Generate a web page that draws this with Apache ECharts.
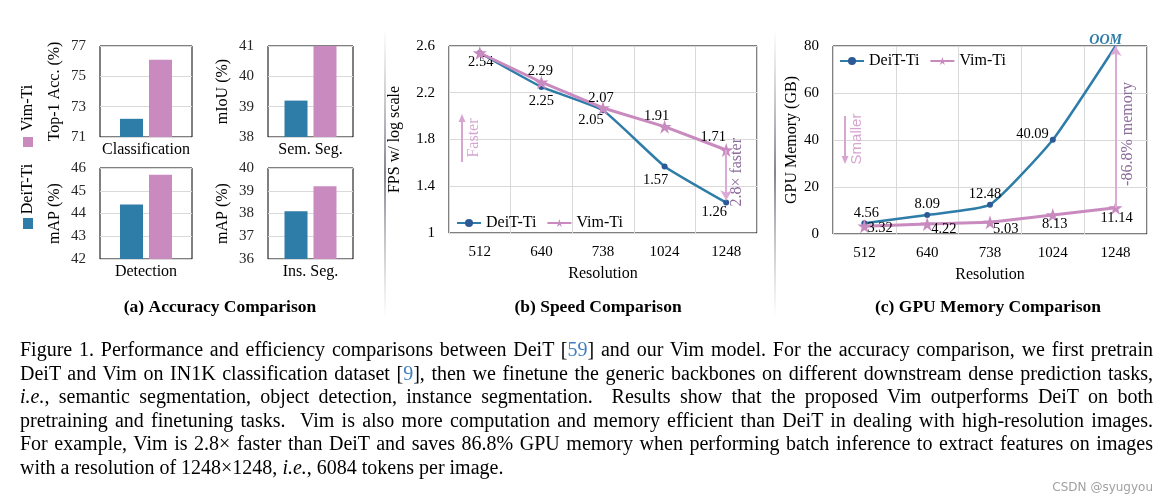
<!DOCTYPE html>
<html><head><meta charset="utf-8">
<script src="https://cdn.jsdelivr.net/npm/echarts@6/dist/echarts.min.js"></script>
<style>
html,body{margin:0;padding:0;background:#fff;}
#chart{position:absolute;left:0;top:0;width:1170px;height:504px;}
#caption{position:absolute;left:20px;top:338px;width:1133px;font-family:'Liberation Serif','Times New Roman',serif;font-size:20px;line-height:23.6px;color:#000;}
#caption .ln{white-space:nowrap;}
#caption .ref{color:#3f7fc4;}
</style></head><body>
<div id="chart"></div>
<div id="caption"></div>
<script>
// ---------- data ----------
const accTasks = ['Classification', 'Sem. Seg.', 'Detection', 'Ins. Seg.'];
const accYNames = ['Top-1 Acc. (%)', 'mIoU (%)', 'mAP (%)', 'mAP (%)'];
const accDeiT = [72.2, 39.2, 44.4, 38.1];
const accVim = [76.1, 41.0, 45.7, 39.2];
const accMin = [71, 38, 42, 36];
const accMax = [77, 41, 46, 40];
const accStep = [2, 1, 1, 1];

const resolutions = ['512', '640', '738', '1024', '1248'];
const fpsDeiT = [2.54, 2.25, 2.05, 1.57, 1.26];
const fpsVim = [2.54, 2.29, 2.07, 1.91, 1.71];
const fpsAxis = [1, 2.6, 0.4];          // min, max, step

const memDeiT = [4.56, 8.09, 12.48, 40.09, 80]; // 1248: OOM, drawn up to the axis top
const memVim = [3.32, 4.22, 5.03, 8.13, 11.14];
const memAxis = [0, 80, 20];

const seriesNames = ['DeiT-Ti', 'Vim-Ti'];
const subTitles = ['(a) Accuracy Comparison', '(b) Speed Comparison', '(c) GPU Memory Comparison'];

const captionLines = [
  'Figure 1. Performance and efficiency comparisons between DeiT [<span class="ref">59</span>] and our Vim model. For the accuracy comparison, we first pretrain',
  'DeiT and Vim on IN1K classification dataset [<span class="ref">9</span>], then we finetune the generic backbones on different downstream dense prediction tasks,',
  '<i>i.e.</i>, semantic segmentation, object detection, instance segmentation. &nbsp;Results show that the proposed Vim outperforms DeiT on both',
  'pretraining and finetuning tasks. &nbsp;Vim is also more computation and memory efficient than DeiT in dealing with high-resolution images.',
  'For example, Vim is 2.8\u00d7 faster than DeiT and saves 86.8% GPU memory when performing batch inference to extract features on images',
  'with a resolution of 1248\u00d71248, <i>i.e.</i>, 6084 tokens per image.'
];

// ---------- style ----------
const FONT = "'Liberation Serif','Times New Roman',serif";
const BLUE = '#2e7ca8', BLUE_DOT = '#2b5a96', PINK = '#c98bbf', GRIDC = '#d9d9d9';
const ARROW = '#dcaad7', NOTE = '#8b6c9b', LIGHT = '#d6a6d1';
const STAR = 'path://M50,2 L61.2,36.3 L97.6,36.3 L68.2,57.6 L79.4,92 L50,70.8 L20.6,92 L31.8,57.6 L2.4,36.3 L38.8,36.3 Z';

// label placement (layout only)
const fpsDeiTLab = [['bottom', [1, -6]], ['bottom', [0, -1]], ['bottom', [-12, -6]], ['bottom', [-9, -2]], ['bottom', [-12, -6]]];
const fpsVimLab = [null, ['top', [-1, 8]], ['top', [-2, 10]], ['top', [-8, 9]], ['top', [-13, 7]]];
const memDeiTLab = [['top', [2, 5]], ['top', [0, 5]], ['top', [-5, 5]], ['left', [4, -6]], null];
const memVimLab = [['right', [-9, 2]], ['right', [-8, 5]], ['right', [-9, 7]], ['bottom', [2, -10]], ['bottom', [1, -9]]];

const txt = (size, extra) => Object.assign({ fontFamily: FONT, fontSize: size, color: '#000' }, extra || {});

const grids = [
  { left: 100, top: 46, width: 92, height: 91 },
  { left: 268, top: 46, width: 85, height: 91 },
  { left: 100, top: 168, width: 92, height: 91 },
  { left: 268, top: 168, width: 85, height: 91 },
  { left: 449, top: 46, width: 308, height: 187 },
  { left: 833, top: 46, width: 314, height: 188 }
].map(g => Object.assign({ show: true, borderColor: '#000', borderWidth: 1, backgroundColor: 'transparent' }, g));

const xAxes = [], yAxes = [];
for (let i = 0; i < 4; i++) {
  xAxes.push({ type: 'category', gridIndex: i, data: [accTasks[i]], axisTick: { show: false }, axisLine: { show: false },
    axisLabel: Object.assign(txt(16), { margin: 5 }) });
  yAxes.push({ type: 'value', gridIndex: i, min: accMin[i], max: accMax[i], interval: accStep[i],
    axisLine: { show: false }, axisTick: { show: false }, splitLine: { lineStyle: { color: GRIDC } },
    axisLabel: Object.assign(txt(15, { color: '#262626' }), { margin: 14 }),
    name: accYNames[i], nameLocation: 'middle', nameGap: 37, nameTextStyle: txt(16) });
}
[4, 5].forEach((g, k) => {
  xAxes.push({ type: 'category', gridIndex: g, data: resolutions, boundaryGap: true, axisTick: { show: false }, axisLine: { show: false },
    splitLine: { show: true, lineStyle: { color: GRIDC } },
    axisLabel: Object.assign(txt(15), { margin: 12 }),
    name: 'Resolution', nameLocation: 'middle', nameGap: 33, nameTextStyle: txt(16) });
  const a = k === 0 ? fpsAxis : memAxis;
  yAxes.push({ type: 'value', gridIndex: g, min: a[0], max: a[1], interval: a[2],
    axisLine: { show: false }, axisTick: { show: false }, splitLine: { lineStyle: { color: GRIDC } },
    axisLabel: Object.assign(txt(15), { margin: 14 }),
    name: k === 0 ? 'FPS w/ log scale' : 'GPU Memory (GB)', nameLocation: 'middle', nameGap: k === 0 ? 46 : 33, nameTextStyle: txt(16) });
});

function pts(vals, labs, extraLast) {
  return vals.map((v, i) => {
    const l = labs[i];
    const item = { value: v, label: l ? { show: true, position: l[0], offset: l[1] } : { show: false } };
    if (extraLast && i === vals.length - 1) Object.assign(item, extraLast);
    return item;
  });
}
const labelStyle = txt(14.5);
const deitLine = (ax, data, smooth) => ({ name: seriesNames[0], type: 'line', xAxisIndex: ax, yAxisIndex: ax, data, smooth,
  symbol: 'circle', symbolSize: 6, lineStyle: { color: BLUE, width: 2.5 }, itemStyle: { color: BLUE_DOT },
  label: labelStyle, z: 3 });
const vimLine = (ax, data, mark) => ({ name: seriesNames[1], type: 'line', xAxisIndex: ax, yAxisIndex: ax, data,
  symbol: STAR, symbolSize: 14, lineStyle: { color: PINK, width: 3 }, itemStyle: { color: PINK },
  label: labelStyle, z: 4,
  markLine: { silent: true, symbol: ['none', 'arrow'], symbolSize: [9, 10], lineStyle: { color: ARROW, width: 2, type: 'solid' },
    label: { show: false }, data: [[{ coord: mark[0] }, { coord: mark[1] }]] } });

const series = [
  deitLine(4, pts(fpsDeiT, fpsDeiTLab), 0.12),
  vimLine(4, pts(fpsVim, fpsVimLab), [['1248', fpsVim[4]], ['1248', fpsDeiT[4] + 0.02]]),
  deitLine(5, pts(memDeiT, memDeiTLab, { symbol: 'none' }), 0.15),
  vimLine(5, pts(memVim, memVimLab), [['1248', memVim[4]], ['1248', memDeiT[4]]])
];
for (let i = 0; i < 4; i++) {
  series.push({ name: seriesNames[0], type: 'bar', xAxisIndex: i, yAxisIndex: i, data: [accDeiT[i]], barWidth: 23, barGap: '26%', itemStyle: { color: BLUE } });
  series.push({ name: seriesNames[1], type: 'bar', xAxisIndex: i, yAxisIndex: i, data: [accVim[i]], barWidth: 23, barGap: '26%', itemStyle: { color: PINK } });
}

const legendBase = { data: seriesNames, itemWidth: 24, itemHeight: 10, itemGap: 10, selectedMode: false, textStyle: txt(16), padding: 0 };

function sepRect(x) {
  return { type: 'rect', shape: { x: x, y: 28, width: 2, height: 290 }, silent: true,
    style: { fill: new echarts.graphic.LinearGradient(0, 0, 0, 1, [
      { offset: 0, color: 'rgba(150,150,160,0)' }, { offset: 0.5, color: 'rgba(120,120,130,0.9)' }, { offset: 1, color: 'rgba(150,150,160,0)' }]) } };
}
function vText(x, y, text, color, family, size) {
  return { type: 'text', x, y, rotation: Math.PI / 2, silent: true,
    style: { text, fill: color, font: size + 'px ' + family, align: 'center', verticalAlign: 'middle' } };
}
function arrow(x, y1, y2, color) { // arrow from y1 pointing to y2
  const dir = y2 < y1 ? -1 : 1;
  return [
    { type: 'line', silent: true, shape: { x1: x, y1: y1, x2: x, y2: y2 - dir * 6 }, style: { stroke: color, lineWidth: 2 } },
    { type: 'polygon', silent: true, shape: { points: [[x, y2], [x - 3.5, y2 - dir * 8], [x + 3.5, y2 - dir * 8]] }, style: { fill: color } }
  ];
}

const option = {
  animation: false,
  backgroundColor: '#fff',
  textStyle: { fontFamily: FONT },
  title: [
    { text: subTitles[0], left: 215, top: 293, textAlign: 'center', textStyle: txt(17.5, { fontWeight: 'bold' }) },
    { text: subTitles[1], left: 593, top: 293, textAlign: 'center', textStyle: txt(17.5, { fontWeight: 'bold' }) },
    { text: subTitles[2], left: 983, top: 293, textAlign: 'center', textStyle: txt(17.5, { fontWeight: 'bold' }) }
  ],
  legend: [
    Object.assign({ left: 456, top: 215 }, legendBase),
    Object.assign({ left: 839, top: 53 }, legendBase)
  ],
  grid: grids, xAxis: xAxes, yAxis: yAxes, series
};

const chart = echarts.init(document.getElementById('chart'), null, { renderer: 'canvas' });
chart.setOption(option);

// annotations positioned from the chart's own scales
const p171 = chart.convertToPixel({ gridIndex: 4 }, ['1248', fpsVim[4]]);
const p126 = chart.convertToPixel({ gridIndex: 4 }, ['1248', fpsDeiT[4]]);
const pm1 = chart.convertToPixel({ gridIndex: 5 }, ['1248', memVim[4]]);
const pm2 = chart.convertToPixel({ gridIndex: 5 }, ['1248', memDeiT[4]]);
const graphic = [
  sepRect(384), sepRect(774),
  { type: 'rect', silent: true, shape: { x: 23, y: 137, width: 10, height: 10 }, style: { fill: PINK } },
  vText(28, 108, seriesNames[1], '#000', FONT, 16),
  { type: 'rect', silent: true, shape: { x: 23, y: 218, width: 10, height: 11 }, style: { fill: BLUE } },
  vText(28, 189, seriesNames[0], '#000', FONT, 16),
  ...arrow(462, 162, 114, LIGHT),
  vText(474, 138, 'Faster', LIGHT, FONT, 16),
  ...arrow(845, 116, 164, LIGHT),
  vText(857, 139, 'Smaller', LIGHT, "'Liberation Sans','DejaVu Sans',sans-serif", 15),
  vText(p171[0] + 11, (p171[1] + p126[1]) / 2 - 4, '2.8\u00d7 faster', NOTE, FONT, 16),
  vText(pm1[0] + 12, (pm1[1] + pm2[1]) / 2 + 7, '-86.8% memory', NOTE, FONT, 16),
  { type: 'text', silent: true, x: pm2[0] - 10, y: pm2[1] - 6,
    style: { text: 'OOM', fill: BLUE, font: "italic bold 14px " + FONT, align: 'center', verticalAlign: 'middle' } },
  { type: 'text', silent: true, x: 1153, y: 488, style: { text: 'CSDN @syugyou', fill: '#a0a0a0', font: "12px 'DejaVu Sans',sans-serif", align: 'right', verticalAlign: 'middle' } }
];
chart.setOption({ graphic });

// caption, each full line justified to the column width
const cap = document.getElementById('caption');
const spans = [];
captionLines.forEach((h, i) => {
  const d = document.createElement('div');
  d.className = 'ln';
  const s = document.createElement('span');
  s.innerHTML = h;
  d.appendChild(s);
  cap.appendChild(d);
  spans.push([d, s, i < captionLines.length - 1]);
});
function justify() {
  spans.forEach(([d, s, full]) => {
    if (!full) return;
    const n = (s.textContent.match(/[ \u00a0]/g) || []).length;
    if (!n) return;
    d.style.wordSpacing = '0px';
    let ws = 0;
    for (let k = 0; k < 3; k++) {
      const w = s.getBoundingClientRect().width;
      ws += (1133 - w) / n;
      d.style.wordSpacing = ws + 'px';
    }
  });
}
justify();
if (document.fonts && document.fonts.ready) document.fonts.ready.then(justify);
</script>
</body></html>
